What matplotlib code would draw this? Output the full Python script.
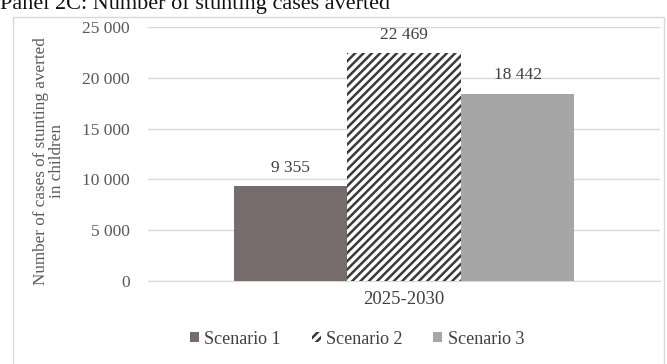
import matplotlib
matplotlib.use("Agg")
import matplotlib.pyplot as plt
from matplotlib.patches import Rectangle, Patch

categories = ["2025-2030"]
series_names = ["Scenario 1", "Scenario 2", "Scenario 3"]
values = [9355, 22469, 18442]
value_labels = ["9 355", "22 469", "18 442"]
yticks = [0, 5000, 10000, 15000, 20000, 25000]
ytick_labels = ["0", "5 000", "10 000", "15 000", "20 000", "25 000"]

plt.rcParams['font.family'] = ['Liberation Serif', 'DejaVu Serif']
plt.rcParams['hatch.linewidth'] = 1.8
plt.rcParams['hatch.color'] = '#3a3a3a'

W, H = 667, 364
fig = plt.figure(figsize=(W/100, H/100), dpi=100)

# outer frame
fig.patches.append(Rectangle((13/W, -0.05), (664-13)/W, 1.05 - 17/H,
                             transform=fig.transFigure, fill=False,
                             edgecolor='#d9d9d9', linewidth=1.0))

fig.text(0/W, 1 - 9/H, "Panel 2C: Number of stunting cases averted",
         fontsize=16, ha='left', va='baseline', color='#111111')

ax = fig.add_axes([148/W, 1 - 281/H, (660-148)/W, (281-27)/H])

colors = ['#766c6c', 'white', '#a6a6a6']
hatches = [None, '////', None]
bw = 113.5/512
offsets = [-bw, 0, bw]
for i, (name, v) in enumerate(zip(series_names, values)):
    ax.bar(offsets[i], v, width=bw, color=colors[i], hatch=hatches[i],
           edgecolor='#3a3a3a' if hatches[i] else colors[i],
           linewidth=0, label=name, zorder=3)
    ax.text(offsets[i], v + 1000, value_labels[i], ha='center', va='bottom',
            fontsize=12.5, color='#404040')

ax.set_xlim(-0.5, 0.5)
ax.set_ylim(0, 25000)
ax.set_yticks(yticks)
ax.set_yticklabels(ytick_labels, fontsize=12.5, color='#595959')
ax.set_xticks([0])
ax.set_xticklabels(categories, fontsize=13.5, color='#404040')
ax.tick_params(axis='y', length=0, pad=13)
ax.tick_params(axis='x', length=0, pad=7)
ax.grid(axis='y', color='#d9d9d9', linewidth=1.0, zorder=0)
for s in ['top', 'right', 'left']:
    ax.spines[s].set_visible(False)
ax.spines['bottom'].set_color('#d9d9d9')

fig.text(49/W, 1 - 161/H, "Number of cases of stunting averted\nin children",
         rotation=90, ha='center', va='center', fontsize=12.3, color='#595959',
         linespacing=1.0)

handles = [Patch(facecolor=colors[i], edgecolor='#3a3a3a' if hatches[i] else colors[i],
                 hatch=hatches[i], label=series_names[i], linewidth=0) for i in range(3)]
fig.legend(handles=handles, loc='center', bbox_to_anchor=(357/W, 1 - 339/H),
           ncol=3, frameon=False, fontsize=13, handlelength=0.5, handleheight=0.5,
           handletextpad=0.3, columnspacing=1.7, labelcolor='#404040')

fig.savefig("out.png", dpi=100)
